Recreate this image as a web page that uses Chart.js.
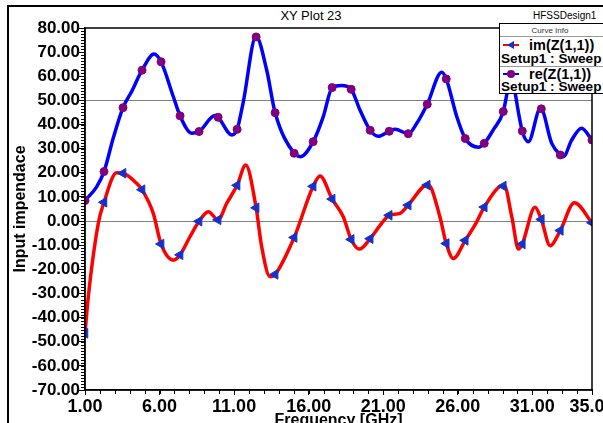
<!DOCTYPE html>
<html><head><meta charset="utf-8">
<script src="https://cdn.jsdelivr.net/npm/chart.js@4/dist/chart.umd.min.js"></script>
<style>
html,body{margin:0;padding:0;background:#fff;overflow:hidden;width:603px;height:423px;font-family:"Liberation Sans",Arial,sans-serif;}
#frame{position:absolute;left:7px;top:5px;width:700px;height:500px;border:2px solid #000;box-sizing:border-box;}
#wrap{position:absolute;left:0;top:0;width:620px;height:440px;}
#title{position:absolute;top:8px;left:0;width:622px;text-align:center;font-size:13px;color:#000;}
#design{position:absolute;top:10px;left:533px;font-size:10px;color:#000;}
#legend{position:absolute;left:499px;top:23px;width:130px;height:69px;border:1.5px solid #000;background:#fff;}
#legend .hdr{position:absolute;left:0;top:2px;width:100px;text-align:center;font-size:8px;color:#333;}
#legend .sep{position:absolute;left:0;width:130px;height:0;border-top:1px solid #999;}
#legend .t{position:absolute;font-weight:bold;font-size:14.5px;white-space:nowrap;line-height:14px;color:#000;}
#legend .s{font-size:13.6px;}
#legend svg{position:absolute;}
</style></head>
<body>
<div id="frame"></div>
<div id="title">XY Plot 23</div>
<div id="design">HFSSDesign1</div>
<div id="wrap"><canvas id="c" width="620" height="440"></canvas></div>
<div id="legend">
  <div class="hdr">Curve Info</div>
  <div class="sep" style="top:12px"></div>
  <svg style="left:3px;top:16px" width="16" height="10"><line x1="0" y1="5" x2="16" y2="5" stroke="#ff0000" stroke-width="2"/><polygon points="4,5 11,1 11,9" fill="#1432c8"/></svg>
  <div class="t" style="left:29px;top:14px">im(Z(1,1))</div>
  <div class="t s" style="left:1px;top:28px">Setup1 : Sweep</div>
  <div class="sep" style="top:42px"></div>
  <svg style="left:3px;top:45px" width="16" height="10"><line x1="0" y1="5" x2="16" y2="5" stroke="#0000ff" stroke-width="2"/><circle cx="8" cy="5" r="4" fill="#800080"/></svg>
  <div class="t" style="left:29px;top:43px">re(Z(1,1))</div>
  <div class="t s" style="left:1px;top:56px">Setup1 : Sweep</div>
</div>
<script>
// ---- data ----
const reFreq = [1.0, 1.78, 2.275, 2.9, 3.55, 4.13, 4.825, 5.63, 6.1, 6.92, 7.375, 8.16, 8.65, 9.72, 9.925, 10.84, 11.2, 11.62, 12.47, 13.18, 13.75, 15.025, 15.46, 16.3, 16.98, 17.575, 18.2, 18.85, 19.44, 20.125, 20.67, 21.4, 21.8, 22.675, 23.25, 23.95, 24.92, 25.225, 25.93, 26.5, 27.38, 27.775, 28.38, 29.05, 29.44, 29.65, 29.84, 30.325, 30.73, 31.55, 32.3, 32.875, 33.08, 33.64, 34.3, 35.0];
const reVal = [8.5, 14.2, 20.5, 34.5, 47.0, 53.7, 62.5, 69.2, 66.0, 51.6, 43.6, 36.4, 37.1, 43.7, 43.0, 35.7, 38.0, 49.5, 76.5, 62.7, 44.9, 28.1, 26.7, 32.9, 43.3, 55.3, 56.2, 54.6, 46.0, 37.6, 35.1, 37.2, 38.0, 36.2, 40.5, 48.4, 61.7, 58.9, 43.3, 34.2, 30.6, 32.2, 37.8, 45.4, 57.3, 62.0, 53.5, 37.3, 32.9, 46.8, 32.2, 27.4, 26.7, 33.6, 38.5, 33.6];
const imFreq = [1.0, 1.22, 1.89, 2.275, 3.12, 3.55, 4.47, 4.825, 5.58, 6.1, 6.92, 7.375, 8.04, 8.65, 9.27, 9.925, 10.5, 11.2, 11.78, 12.475, 12.85, 13.41, 13.75, 15.025, 16.3, 16.76, 17.575, 18.32, 18.85, 19.4, 20.125, 20.8, 21.4, 22.13, 22.675, 24.0, 24.8, 25.225, 25.7, 26.5, 27.27, 27.775, 29.1, 29.62, 30.07, 30.325, 31.18, 31.6, 32.19, 32.875, 33.82, 35.0];
const imVal = [-46.5, -31.4, -1.0, 7.8, 20.0, 19.8, 15.6, 13.0, 3.2, -9.5, -16.2, -14.0, -6.5, -0.1, 3.9, 0.5, 7.3, 14.8, 23.2, 5.5, -10.7, -23.1, -22.1, -6.8, 14.4, 18.7, 9.1, 1.8, -7.6, -11.6, -7.3, -1.7, 2.4, 3.2, 6.6, 15.2, 1.8, -9.3, -15.5, -8.0, -0.3, 5.8, 14.9, 1.8, -11.6, -9.5, 5.7, 0.7, -10.2, -3.9, 7.6, -0.7];
const markerFreq = [1.0, 2.275, 3.55, 4.825, 6.1, 7.375, 8.65, 9.925, 11.2, 12.475, 13.75, 15.025, 16.3, 17.575, 18.85, 20.125, 21.4, 22.675, 23.95, 25.225, 26.5, 27.775, 29.05, 30.325, 31.6, 32.875, 35.0];
const reMarkerVal = [8.5, 20.5, 47.0, 62.5, 66.0, 43.6, 37.1, 43.0, 38.0, 76.3, 44.9, 28.1, 32.9, 55.3, 54.6, 37.6, 37.2, 36.2, 48.4, 58.9, 34.2, 32.2, 45.4, 37.3, 46.5, 27.4, 33.6];
const imMarkerVal = [-46.5, 7.8, 19.8, 13.0, -9.5, -14.0, -0.1, 0.5, 14.8, 5.5, -22.1, -6.8, 14.4, 9.1, -7.6, -7.3, 2.4, 6.6, 14.9, -9.3, -8.0, 5.8, 14.5, -9.5, 0.7, -3.9, -0.7];
const xTicks = [1, 6, 11, 16, 21, 26, 31, 35];
const yMin = -70, yMax = 80, yStep = 10;
const gridValues = [0, 50];
const xTitle = 'Frequency [GHz]';
const yTitle = 'Input impendace';

const pts = (xs, ys) => xs.map((x, i) => ({x: x, y: ys[i]}));

const decor = {
  id: 'decor',
  afterDraw(chart) {
    const {ctx, chartArea: a, scales: {x, y}} = chart;
    ctx.save();
    ctx.strokeStyle = '#000';
    ctx.lineWidth = 1;
    ctx.beginPath();
    for (let v = yMin; v <= yMax + 1e-9; v += 1.25) {
      const py = Math.round(y.getPixelForValue(v)) + 0.5;
      ctx.moveTo(a.left - 4, py); ctx.lineTo(a.left, py);
    }
    for (let v = 1; v <= 35; v += 1) {
      const px = Math.round(x.getPixelForValue(v)) + 0.5;
      ctx.moveTo(px, a.bottom); ctx.lineTo(px, a.bottom + 4);
    }
    ctx.stroke();
    ctx.lineWidth = 1.5;
    ctx.strokeRect(a.left, a.top, a.right - a.left, a.bottom - a.top);
    ctx.restore();
  }
};

new Chart(document.getElementById('c'), {
  type: 'scatter',
  data: {
    datasets: [
      {data: pts(markerFreq, imMarkerVal), showLine: false, pointStyle: 'triangle', rotation: -90,
       pointRadius: 5.5, backgroundColor: '#1432c8', borderColor: '#1432c8', borderWidth: 1, order: 0},
      {data: pts(markerFreq, reMarkerVal), showLine: false, pointStyle: 'circle',
       pointRadius: 4, backgroundColor: '#800080', borderColor: '#800080', borderWidth: 1, order: 1},
      {data: pts(imFreq, imVal), showLine: true, borderColor: '#ff0000', borderWidth: 3.5,
       pointRadius: 0, cubicInterpolationMode: 'monotone', order: 2},
      {data: pts(reFreq, reVal), showLine: true, borderColor: '#0000ff', borderWidth: 3.5,
       pointRadius: 0, cubicInterpolationMode: 'monotone', order: 3}
    ]
  },
  options: {
    responsive: false, animation: false, devicePixelRatio: 1,
    layout: {padding: {left: 0, right: 28, top: 28, bottom: 0}},
    plugins: {legend: {display: false}, tooltip: {enabled: false}},
    scales: {
      x: {
        type: 'linear', min: 1, max: 35,
        afterBuildTicks: s => { s.ticks = xTicks.map(v => ({value: v})); },
        afterFit: s => { s.height = 50; },
        ticks: {callback: v => v.toFixed(2), color: '#000', font: {family: '"Liberation Sans", Arial', size: 18, weight: 'bold'}, padding: 1, maxRotation: 0, autoSkip: false},
        grid: {color: 'rgba(0,0,0,0)', tickColor: '#000', tickLength: 5, drawTicks: true},
        border: {display: true, color: '#000', width: 1.5},
        title: {display: true, text: xTitle, color: '#000', font: {family: '"Liberation Sans", Arial', size: 16, weight: 'bold'}, padding: {top: 0, bottom: 10}}
      },
      y: {
        type: 'linear', min: yMin, max: yMax,
        afterFit: s => { s.width = 85; },
        ticks: {stepSize: yStep, autoSkip: false, callback: v => v.toFixed(2), color: '#000', font: {family: '"Liberation Sans", Arial', size: 17, weight: 'bold'}, padding: -2},
        grid: {color: c => (c.tick && gridValues.includes(c.tick.value)) ? '#808080' : 'rgba(0,0,0,0)', tickColor: '#000', tickLength: 7, lineWidth: 1},
        border: {display: true, color: '#000', width: 1.5},
        title: {display: true, text: yTitle, color: '#000', font: {family: '"Liberation Sans", Arial', size: 16, weight: 'bold'}, padding: {top: 11, bottom: 0}}
      }
    }
  },
  plugins: [decor]
});
</script>
</body></html>
